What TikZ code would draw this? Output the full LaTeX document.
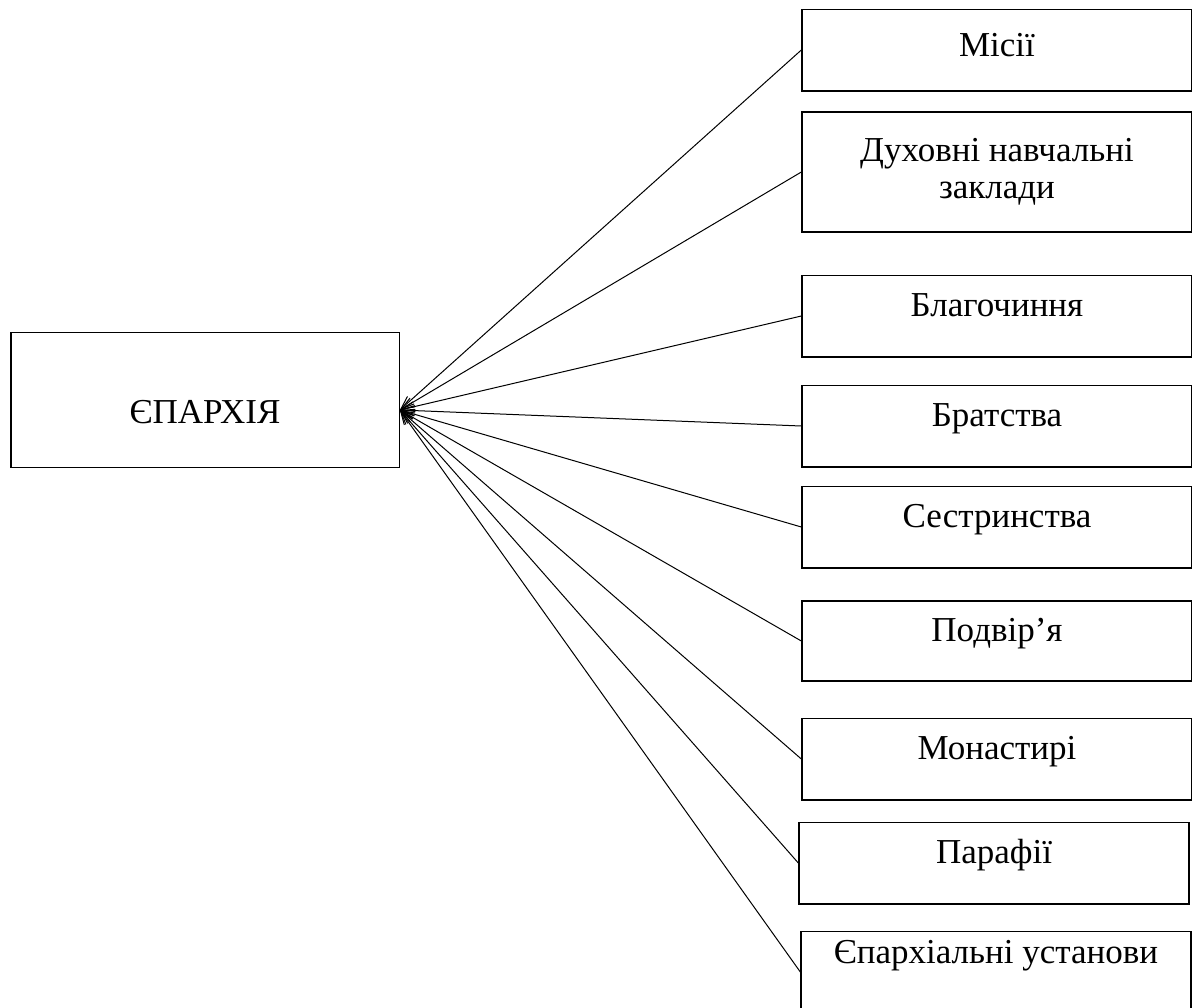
\documentclass[tikz,border=0pt]{standalone}
\usepackage{fontspec}
\setmainfont{Liberation Serif}
\usetikzlibrary{arrows.meta}

\begin{document}
\begin{tikzpicture}[x=0.6pt,y=-0.6pt,
    box/.style={draw,line width=0.8pt,inner sep=0pt,minimum width=234pt,
      minimum height=49pt,font=\fontsize{21}{22.5}\selectfont},
    onebox/.style={box,text height=14pt,text depth=14pt},
    conn/.style={line width=0.6pt,-{Straight Barb[length=8pt,width=6pt]}}]
    \useasboundingbox (0,0) rectangle (1192,1008);

    \path
    (205,400) node[onebox,minimum width=233pt,minimum height=81pt,
      text height=28pt,text depth=0pt] (epar) {ЄПАРХІЯ}
    (997,50) node[onebox,text depth=6.2pt] (mis) {Місії}
    (997,172) node[box,minimum height=72pt,align=center] (dukh) {Духовні навчальні\\заклади}
    (997,316) node[onebox] (blag) {Благочиння}
    (997,426) node[onebox] (brat) {Братства}
    (997,527) node[onebox] (sest) {Сестринства}
    (997,641) node[onebox,minimum height=48pt] (podv) {Подвір’я}
    (997,759) node[onebox] (mon) {Монастирі}
    (994,863) node[onebox] (paraf) {Парафії}
    (996,972) node[onebox,text depth=24.2pt] (ust) {Єпархіальні установи}
    ;
    \coordinate (tip) at ([yshift=-6pt]epar.east);

    \draw[conn] (mis.west) -- (tip);
    \draw[conn] (dukh.west) -- (tip);
    \draw[conn] (blag.west) -- (tip);
    \draw[conn] (brat.west) -- (tip);
    \draw[conn] (sest.west) -- (tip);
    \draw[conn] (podv.west) -- (tip);
    \draw[conn] (mon.west) -- (tip);
    \draw[conn] (paraf.west) -- (tip);
    \draw[conn] (ust.west) -- (tip);
  \end{tikzpicture}
\end{document}
